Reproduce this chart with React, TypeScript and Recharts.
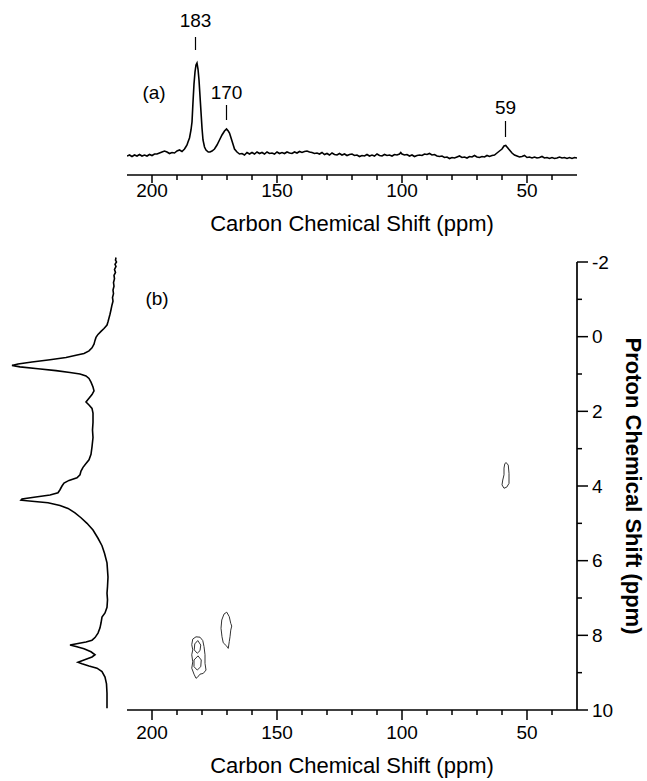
import React from "react";
import { ScatterChart, Scatter, XAxis, YAxis, ReferenceLine, ReferenceDot } from "recharts";

const FONT = '"Liberation Sans", Arial, Helvetica, sans-serif';

// ---- axis ticks ----
const CARBON_TICKS = [200, 190, 180, 170, 160, 150, 140, 130, 120, 110, 100, 90, 80, 70, 60, 50, 40];
const CARBON_MAJOR = [200, 150, 100, 50];
const PROTON_TICKS = [-2, -1, 0, 1, 2, 3, 4, 5, 6, 7, 8, 9, 10];
const PROTON_MAJOR = [-2, 0, 2, 4, 6, 8, 10];

// ---- (a) 1D 13C spectrum: [ppm, intensity] ----
const carbonSpectrum: [number, number][] = [
  [210, 4], [209, 5], [208, 3.5], [207, 5], [206, 4], [205, 5.5], [204, 4], [203, 5], [202, 4], [201, 5.5],
  [200, 4.5], [199, 6], [198, 6], [197, 7], [196, 8], [195, 9], [194, 8], [193, 6.5], [192, 7.5], [191, 7],
  [190, 9], [189, 10], [188, 8.5], [187, 11], [186.5, 13], [186, 15], [185.6, 18],
  [185, 22], [184.4, 30], [184, 38], [183.6, 58], [183.2, 76], [182.8, 88], [182.4, 95], [182, 97], [181.6, 91],
  [181.2, 80], [180.8, 64], [180.4, 48], [180, 32], [179.6, 20], [179, 13], [178.4, 10], [177.5, 8], [176.8, 8],
  [176, 9], [175, 11], [174, 15], [173, 20], [172, 25], [171, 29], [170.2, 31], [169.5, 29], [169, 27],
  [168.5, 23], [168, 19], [167.5, 15], [167, 11], [166, 8], [165, 6], [164, 6.5], [163, 5], [162, 7.5],
  [161, 6], [160, 7.5], [159, 6], [158, 8], [157, 6.5], [156, 7.5], [155, 6], [154, 8], [153, 6.5],
  [152, 7], [151, 6], [150, 8], [149, 6.5], [148, 7.5], [147, 6.5], [146, 8], [145, 7], [144, 6.5],
  [143, 8], [142, 7], [141, 8.5], [140, 7.5], [139, 8.5], [138, 9], [137, 8], [136, 7.5], [135, 6.5],
  [134, 7], [133, 6], [132, 7.5], [131, 5.5], [130, 6.5], [129, 5], [128, 7], [127, 5.5], [126, 5],
  [125, 6.5], [124, 5], [123, 6], [122, 4.5], [121, 5.5], [120, 6], [119, 4.5], [118, 5], [117, 3.5],
  [116, 4.5], [115, 4], [114, 5.5], [113, 4], [112, 5], [111, 4], [110, 6], [109, 4.5], [108, 4],
  [107, 5.5], [106, 4.5], [105, 5], [104, 4], [103, 5.5], [102, 5], [101, 6], [100.5, 7.5], [100, 6],
  [99, 5], [98, 5.5], [97, 4], [96, 5], [95, 3.5], [94, 4.5], [93, 5], [92, 4.5], [91, 6], [90, 5.5],
  [89, 6.5], [88, 5], [87, 5.5], [86, 4], [85, 3.5], [84, 4], [83, 2.5], [82, 3], [81, 1.5], [80, 2.5],
  [79, 2], [78, 3], [77, 4], [76, 2.5], [75, 3], [74, 2], [73, 3.5], [72, 3], [71, 4.5], [70, 3],
  [69, 2.5], [68, 3.5], [67, 3], [66, 4.5], [65, 3.5], [64, 4.5], [63, 5], [62, 7], [61, 9], [60, 11],
  [59.2, 14], [58.5, 14.5], [58, 13], [57, 10], [56, 7], [55, 5], [54, 4], [53, 3], [52, 3.5], [51, 4.5],
  [50, 2.5], [49, 3], [48, 2], [47, 3], [46, 2], [45, 2.5], [44, 3.5], [43, 2], [42, 2.5], [41, 1.5],
  [40, 2.5], [39, 1.5], [38, 2], [37, 3], [36, 2], [35, 2.5], [34, 1.5], [33, 2.5], [32, 1.5], [31, 2.5], [30, 2],
];

// peak annotations in (a)
const peakNames = ["183", "170", "59"];
const peakPpm = [182.6, 170.2, 58.6];
const peakTextLevel = [140, 68, 53];
const peakTickTop = [123, 55, 39];
const peakTickBottom = [110, 40, 23];

// ---- (b) 1H projection: [proton ppm, intensity] ----
const protonProjection: [number, number][] = [
  [-2.12, 2], [-2.05, 2.5], [-2.0, 1.5], [-1.94, 3], [-1.88, 2], [-1.8, 3.5], [-1.72, 2.5], [-1.64, 4],
  [-1.55, 3.5], [-1.45, 4.5], [-1.35, 4], [-1.25, 5], [-1.15, 4.5], [-1.05, 5.5], [-0.95, 5], [-0.85, 6],
  [-0.72, 7], [-0.6, 8], [-0.5, 9], [-0.4, 10], [-0.31, 11], [-0.22, 14], [-0.14, 17], [-0.06, 20],
  [0.02, 22], [0.1, 23], [0.2, 24], [0.3, 26], [0.38, 29], [0.45, 34], [0.5, 42], [0.56, 52], [0.62, 68],
  [0.68, 86], [0.73, 100], [0.77, 106], [0.81, 98], [0.86, 80], [0.91, 62], [0.96, 48], [1.0, 38],
  [1.05, 32], [1.12, 29], [1.22, 27], [1.35, 25], [1.45, 24], [1.55, 26], [1.65, 29], [1.75, 32],
  [1.83, 29], [1.92, 26], [2.05, 25], [2.3, 25], [2.5, 25.5], [2.7, 25], [2.95, 26], [3.15, 27],
  [3.3, 29], [3.4, 32], [3.5, 35], [3.6, 37], [3.7, 38], [3.78, 41], [3.85, 49], [3.92, 54], [4.0, 56],
  [4.1, 58], [4.18, 60], [4.24, 68], [4.3, 84], [4.35, 96], [4.38, 97], [4.41, 86], [4.45, 70],
  [4.52, 58], [4.6, 50], [4.72, 43], [4.85, 37], [5.0, 31], [5.18, 25], [5.4, 20], [5.6, 16], [5.8, 13.5],
  [6.06, 11], [6.44, 10], [6.7, 10.5], [6.87, 11], [7.05, 10.5], [7.25, 11], [7.4, 13], [7.51, 16],
  [7.67, 17], [7.8, 18], [7.94, 20], [8.06, 23], [8.13, 26], [8.18, 32], [8.22, 40], [8.26, 48],
  [8.3, 42], [8.36, 34], [8.44, 27], [8.52, 23], [8.58, 26], [8.64, 32], [8.7, 38], [8.72, 40],
  [8.76, 36], [8.82, 29], [8.88, 21], [8.97, 16], [9.12, 13], [9.3, 11.5], [9.55, 11], [9.75, 11], [9.95, 11],
];

// ---- (b) 2D contours: [carbon ppm, proton ppm] ----
const contour183Outer: [number, number][] = [
  [182.4, 8.04], [180.8, 8.05], [179.7, 8.14], [179.2, 8.3], [178.8, 8.52], [178.8, 8.75], [178.4, 8.93],
  [179.5, 9.02], [180.8, 9.04], [181.9, 9.13], [182.4, 9.15], [183.2, 9.04], [184.1, 8.88], [183.7, 8.71],
  [184.1, 8.52], [183.7, 8.39], [184.1, 8.25], [183.7, 8.1], [182.4, 8.04],
];
const contour183InnerA: [number, number][] = [
  [181.7, 8.14], [180.5, 8.26], [180.8, 8.41], [181.9, 8.48], [183.1, 8.39], [182.9, 8.23], [181.7, 8.14],
];
const contour183InnerB: [number, number][] = [
  [181.6, 8.55], [180.3, 8.66], [180.5, 8.84], [181.9, 8.93], [183.2, 8.84], [183.2, 8.66], [181.6, 8.55],
];
const contour170: [number, number][] = [
  [170.1, 7.38], [169.1, 7.5], [168.5, 7.68], [168.1, 7.75], [168.5, 7.86], [168.8, 8.04], [169.1, 8.17],
  [169.5, 8.35], [170.1, 8.29], [171.5, 8.2], [172.0, 8.04], [172.4, 7.81], [172.1, 7.59], [171.2, 7.43],
  [170.1, 7.38],
];
const contour59: [number, number][] = [
  [58.4, 3.37], [57.5, 3.44], [57.2, 3.66], [57.2, 3.93], [58.1, 4.03], [59.2, 4.06], [60.0, 3.97],
  [59.7, 3.84], [59.2, 3.7], [59.2, 3.52], [58.9, 3.41], [58.4, 3.37],
];

const toXY = (pts: [number, number][]) => pts.map(([x, y]) => ({ x, y }));
const noDot = () => <g />;

function makeCarbonTick(majorLen: number, minorLen: number, labelDy: number) {
  return (props: any) => {
    const { x, y, payload } = props;
    const v = payload.value;
    const major = CARBON_MAJOR.includes(v);
    return (
      <g>
        <line x1={x} x2={x} y1={y} y2={y + (major ? majorLen : minorLen)} stroke="#000" strokeWidth={1.5} />
        {major && (
          <text x={x} y={y + labelDy} textAnchor="middle" dominantBaseline="central" fontSize={19} fontFamily={FONT} fill="#000">
            {v}
          </text>
        )}
      </g>
    );
  };
}

const protonTick = (props: any) => {
  const { x, y, payload } = props;
  const v = payload.value;
  const major = PROTON_MAJOR.includes(v);
  return (
    <g>
      <line x1={x} x2={x + (major ? 11 : 5)} y1={y} y2={y} stroke="#000" strokeWidth={1.5} />
      {major && (
        <text x={x + 15} y={y} textAnchor="start" dominantBaseline="central" fontSize={19} fontFamily={FONT} fill="#000">
          {v}
        </text>
      )}
    </g>
  );
};

const carbonTitle = (dy: number) => (props: any) => {
  const vb = props.viewBox;
  return (
    <text x={vb.x + vb.width / 2} y={vb.y + dy} textAnchor="middle" dominantBaseline="central" fontSize={22} fontFamily={FONT} fill="#000">
      Carbon Chemical Shift (ppm)
    </text>
  );
};

const protonTitle = (props: any) => {
  const vb = props.viewBox;
  const cx = vb.x + 56;
  const cy = vb.y + vb.height / 2;
  return (
    <text x={cx} y={cy} transform={`rotate(90 ${cx} ${cy})`} textAnchor="middle" dominantBaseline="central" fontSize={22} fontWeight="bold" fontFamily={FONT} fill="#000">
      Proton Chemical Shift (ppm)
    </text>
  );
};

const axisStroke = { stroke: "#000", strokeWidth: 1.7 };
const lineStyle = { stroke: "#000", strokeWidth: 1.6 };
const contourStyle = { stroke: "#333", strokeWidth: 1 };
const labelStyle = { position: "center" as const, fontSize: 19, fill: "#000", fontFamily: FONT };

export default function App() {
  return (
    <div style={{ position: "absolute", left: 0, top: 0, width: 647, height: 781, background: "#fff", fontFamily: FONT }}>
      {/* (a) carbon 1D spectrum */}
      <div style={{ position: "absolute", left: 0, top: 0 }}>
        <ScatterChart width={647} height={240} margin={{ top: 0, right: 70, bottom: 0, left: 127 }}>
          <XAxis
            type="number" dataKey="x" domain={[30, 210]} reversed allowDataOverflow
            ticks={CARBON_TICKS} interval={0} height={65} tickSize={0} tickMargin={0}
            axisLine={axisStroke} tickLine={false} tick={makeCarbonTick(8, 5, 15)}
            label={{ content: carbonTitle(48) }}
          />
          <YAxis type="number" dataKey="y" domain={[-15, 160]} hide allowDataOverflow />
          <Scatter data={toXY(carbonSpectrum)} line={lineStyle} lineType="joint" shape={noDot} isAnimationActive={false} />
          {peakNames.map((name, i) => (
            <ReferenceLine
              key={"pl" + name}
              segment={[{ x: peakPpm[i], y: peakTickBottom[i] }, { x: peakPpm[i], y: peakTickTop[i] }]}
              stroke="#000" strokeWidth={1.2}
            />
          ))}
          {peakNames.map((name, i) => (
            <ReferenceDot
              key={"pt" + name} x={peakPpm[i]} y={peakTextLevel[i]} r={0} fill="none" stroke="none"
              label={{ value: name, ...labelStyle }}
            />
          ))}
          <ReferenceDot x={199.2} y={68} r={0} fill="none" stroke="none" label={{ value: "(a)", ...labelStyle }} />
        </ScatterChart>
      </div>

      {/* (b) 2D HETCOR contour plot */}
      <div style={{ position: "absolute", left: 0, top: 0 }}>
        <ScatterChart width={647} height={781} margin={{ top: 262, right: 0, bottom: 0, left: 127 }}>
          <XAxis
            type="number" dataKey="x" domain={[30, 210]} reversed allowDataOverflow
            ticks={CARBON_TICKS} interval={0} height={71} tickSize={0} tickMargin={0}
            axisLine={axisStroke} tickLine={false} tick={makeCarbonTick(10, 5, 22)}
            label={{ content: carbonTitle(55) }}
          />
          <XAxis xAxisId="top" orientation="top" type="number" domain={[30, 210]} reversed height={0}
            tick={false} tickLine={false} axisLine={axisStroke} />
          <YAxis
            type="number" dataKey="y" orientation="right" domain={[-2, 10]} reversed allowDataOverflow
            ticks={PROTON_TICKS} interval={0} width={70} tickSize={0} tickMargin={0}
            axisLine={axisStroke} tickLine={false} tick={protonTick}
            label={{ content: protonTitle }}
          />
          <YAxis yAxisId="left" orientation="left" type="number" domain={[-2, 10]} reversed width={0}
            tick={false} tickLine={false} axisLine={axisStroke} />
          <Scatter data={toXY(contour183Outer)} line={contourStyle} lineType="joint" shape={noDot} isAnimationActive={false} />
          <Scatter data={toXY(contour183InnerA)} line={contourStyle} lineType="joint" shape={noDot} isAnimationActive={false} />
          <Scatter data={toXY(contour183InnerB)} line={contourStyle} lineType="joint" shape={noDot} isAnimationActive={false} />
          <Scatter data={toXY(contour170)} line={contourStyle} lineType="joint" shape={noDot} isAnimationActive={false} />
          <Scatter data={toXY(contour59)} line={contourStyle} lineType="joint" shape={noDot} isAnimationActive={false} />
          <ReferenceDot x={198} y={-1.04} r={0} fill="none" stroke="none" label={{ value: "(b)", ...labelStyle }} />
        </ScatterChart>
      </div>

      {/* (b) proton projection on the left */}
      <div style={{ position: "absolute", left: 0, top: 0 }}>
        <ScatterChart width={130} height={781} margin={{ top: 254.53, right: 12, bottom: 71, left: 8 }}>
          <XAxis type="number" dataKey="x" domain={[0, 110]} reversed hide allowDataOverflow />
          <YAxis type="number" dataKey="y" domain={[-2.2, 10]} reversed hide allowDataOverflow />
          <Scatter
            data={protonProjection.map(([ppm, inten]) => ({ x: inten, y: ppm }))}
            line={{ stroke: "#000", strokeWidth: 1.6 }} lineType="joint" shape={noDot} isAnimationActive={false}
          />
        </ScatterChart>
      </div>
    </div>
  );
}
